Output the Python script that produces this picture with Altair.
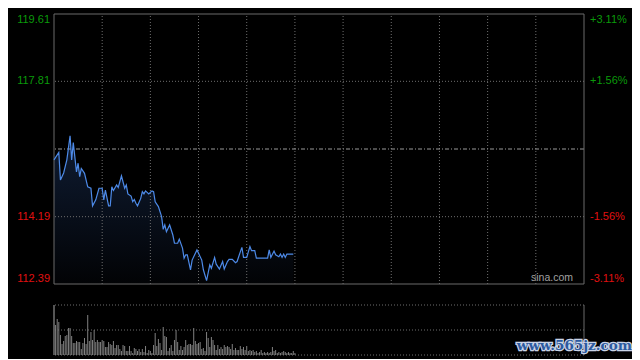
import altair as alt
import pandas as pd

# ---- data ----
minutes = [0, 3, 4, 6, 8, 10, 11, 12, 14, 15, 16, 17, 19, 21, 23, 24, 26, 28, 30, 31,
           32, 34, 35, 36, 37, 39, 40, 42, 44, 45, 46, 48, 49, 50, 51, 52, 54, 55, 56, 57,
           59, 61, 62, 63, 65, 67, 68, 69, 70, 72, 74, 75, 77, 78, 80, 81, 82, 83, 85, 86,
           89, 90, 92, 93, 95, 97, 98, 100, 101, 103, 105, 106, 108, 109, 111, 113, 114, 116, 117, 118,
           120, 121, 122, 123, 125, 126, 128, 133, 134, 135, 137, 138, 140, 141, 142, 143, 144, 145, 149]
prices = [115.71, 115.91, 115.17, 115.36, 115.71, 116.35, 115.71, 116.17, 115.39, 115.62,
          115.26, 115.48, 115.35, 114.99, 114.95, 114.48, 114.64, 114.95, 114.95, 114.64,
          114.90, 114.48, 114.48, 114.99, 114.89, 115.04, 114.97, 115.28, 114.95, 115.04,
          114.80, 114.74, 114.59, 114.65, 114.55, 114.48, 114.68, 114.86, 114.80, 114.88,
          114.80, 114.88, 114.86, 114.59, 114.46, 114.19, 113.85, 113.97, 113.79, 113.97,
          113.70, 113.48, 113.48, 113.59, 113.35, 113.08, 113.17, 113.17, 112.77, 113.03,
          113.30, 113.21, 113.03, 112.77, 112.48, 112.90, 112.81, 113.10, 112.92, 112.79,
          112.99, 112.79, 112.99, 113.05, 113.05, 112.96, 112.99, 113.25, 113.37, 113.10,
          113.10, 113.25, 113.39, 113.28, 113.28, 113.08, 113.08, 113.08, 113.30, 113.10,
          113.27, 113.17, 113.12, 113.19, 113.10, 113.19, 113.10, 113.19, 113.19]

volumes = [50, 30, 36, 33, 20, 11, 14, 19, 20, 27, 27, 19, 12, 12, 14, 13, 13, 6, 12, 17,
           11, 40, 14, 23, 15, 25, 13, 15, 13, 13, 15, 14, 8, 8, 13, 11, 10, 14, 7, 10,
           10, 6, 4, 10, 9, 4, 4, 9, 4, 2, 7,
           6, 4, 6, 3, 6, 3, 9, 2, 5, 4, 2, 10, 22, 9, 16, 12, 5, 28, 19,
           18, 4, 7, 10, 4, 15, 25, 13, 5, 9, 5, 8, 15, 10, 11, 11, 10, 27, 14, 11,
           12, 13, 6, 7, 4, 23, 17, 8, 18, 15, 10, 5,
           10, 6, 8, 6, 10, 8, 9, 8, 6, 11, 5, 7, 5, 5, 9, 6, 8, 5, 9, 4,
           5, 4, 5, 3, 4, 2, 3, 5, 2, 3, 2, 3, 2, 3, 8, 4, 5, 2, 3, 2,
           3, 4, 3, 2, 3, 2, 2, 4, 2]

prev_close = 116.00
price_min, price_max = 112.39, 119.61
price_ticks = [119.61, 117.81, 114.19, 112.39]
pct_labels = ["+3.11%", "+1.56%", "-1.56%", "-3.11%"]
inner_price_grid = [117.81, 114.19]
session_minutes = 330
grid_minutes = [30, 60, 90, 120, 150, 180, 210, 240, 270, 300]
vol_max = 50
vol_grid = [0, 25, 50]

# ---- tables ----
price_df = pd.DataFrame({"m": minutes, "p": prices})
vol_df = pd.DataFrame({"m": list(range(len(volumes))), "v": volumes})
label_df = pd.DataFrame({"p": price_ticks,
                         "left": [f"{v:.2f}" for v in price_ticks],
                         "right": pct_labels})

W, H = 530, 341
xs = alt.Scale(domain=[0, session_minutes], nice=False, zero=False)
ps = alt.Scale(domain=[price_min, price_max], range=[270, 0], nice=False, zero=False)
vs = alt.Scale(domain=[0, vol_max], range=[341, 291], nice=False, zero=False)

GRID = "#6f6f6f"
BORDER = "#6a6a6a"
GREEN = "#0a9a0a"
RED = "#e01010"
FONT = "Liberation Sans"

X = lambda f: alt.X(f, scale=xs, axis=None)
PY = lambda f: alt.Y(f, scale=ps, axis=None)
VY = lambda f: alt.Y(f, scale=vs, axis=None)

area = alt.Chart(price_df).mark_area(
    color=alt.Gradient(gradient="linear",
                       stops=[alt.GradientStop(color="#0f1c33", offset=0),
                              alt.GradientStop(color="#020305", offset=1)],
                       x1=1, x2=1, y1=0, y2=1)
).encode(x=X("m:Q"), y=PY("p:Q"), y2=alt.datum(price_min))

line = alt.Chart(price_df).mark_line(color="#4d8ae8", strokeWidth=1.2).encode(
    x=X("m:Q"), y=PY("p:Q"))

hgrid = alt.Chart(pd.DataFrame({"p": inner_price_grid})).mark_rule(
    color=GRID, strokeDash=[1, 2], strokeWidth=1).encode(y=PY("p:Q"))
hborder = alt.Chart(pd.DataFrame({"p": [price_min, price_max]})).mark_rule(
    color=BORDER, strokeWidth=1).encode(y=PY("p:Q"))
ref = alt.Chart(pd.DataFrame({"p": [prev_close]})).mark_rule(
    color="#9a9a9a", strokeDash=[4, 2, 1, 2], strokeWidth=1).encode(y=PY("p:Q"))
vgrid = alt.Chart(pd.DataFrame({"m": grid_minutes})).mark_rule(
    color=GRID, strokeDash=[1, 2], strokeWidth=1).encode(
    x=X("m:Q"), y=alt.Y("a:Q", scale=ps, axis=None), y2="b:Q"
).transform_calculate(a=str(price_min), b=str(price_max))
vborder = alt.Chart(pd.DataFrame({"m": [0, session_minutes]})).mark_rule(
    color=BORDER, strokeWidth=1).encode(
    x=X("m:Q"), y=alt.Y("a:Q", scale=ps, axis=None), y2="b:Q"
).transform_calculate(a=str(price_min), b=str(price_max))

color_cond = alt.condition(f"datum.p > {prev_close}", alt.value(GREEN), alt.value(RED))


def labels(field, align, dx, xval, flt, baseline):
    return alt.Chart(label_df).mark_text(
        align=align, baseline=baseline, dx=dx, fontSize=11, font=FONT
    ).encode(x=alt.X("xx:Q", scale=xs, axis=None), y=PY("p:Q"),
             text=f"{field}:N", color=color_cond
             ).transform_calculate(xx=str(xval)).transform_filter(flt)


lab_layers = []
for field, align, dx, xv in [("left", "right", -4, 0), ("right", "left", 6, session_minutes)]:
    lab_layers.append(labels(field, align, dx, xv, f"datum.p == {price_max}", "top"))
    lab_layers.append(labels(field, align, dx, xv,
                             f"datum.p < {price_max} && datum.p > {price_min}", "middle"))
    lab_layers.append(labels(field, align, dx, xv, f"datum.p == {price_min}", "bottom"))

sina = alt.Chart(pd.DataFrame({"t": ["sina.com"], "m": [session_minutes], "p": [price_min]})).mark_text(
    align="right", baseline="bottom", dx=-11, dy=-1, fontSize=10.5, font=FONT, color="#a0a0a0"
).encode(x=X("m:Q"), y=PY("p:Q"), text="t:N")

bars = alt.Chart(vol_df).mark_rule(color="#808080", strokeWidth=1).encode(
    x=X("m:Q"), y=VY("v:Q"), y2=alt.datum(0))
vol_hgrid = alt.Chart(pd.DataFrame({"v": vol_grid})).mark_rule(
    color=GRID, strokeDash=[1, 2], strokeWidth=1).encode(y=VY("v:Q"))
vol_vborder = alt.Chart(pd.DataFrame({"m": [0, session_minutes]})).mark_rule(
    color=BORDER, strokeWidth=1).encode(
    x=X("m:Q"), y=alt.Y("a:Q", scale=vs, axis=None), y2="b:Q"
).transform_calculate(a="0", b=str(vol_max))

wm_df = pd.DataFrame({"t": ["www.565jz.com"], "m": [session_minutes], "v": [0]})
wm_back = alt.Chart(wm_df).mark_text(
    align="right", baseline="middle", dx=48, dy=-9, fontSize=13.5, font="DejaVu Serif",
    fontWeight="bold", color="#2c5aa0", stroke="#c9d3e6", strokeWidth=2.5
).encode(x=X("m:Q"), y=VY("v:Q"), text="t:N")
wm_front = alt.Chart(wm_df).mark_text(
    align="right", baseline="middle", dx=48, dy=-9, fontSize=13.5, font="DejaVu Serif",
    fontWeight="bold", color="#2c5aa0"
).encode(x=X("m:Q"), y=VY("v:Q"), text="t:N")

chart = alt.layer(
    area, hgrid, vgrid, ref, hborder, vborder, line, sina,
    vol_hgrid, bars, vol_vborder, *lab_layers, wm_back, wm_front
).resolve_scale(y="independent").properties(
    width=W, height=H,
    autosize=alt.AutoSizeParams(type="none"),
    padding={"left": 46, "top": 6, "right": 48, "bottom": 4},
    background="#000000",
).configure_view(stroke=None)

chart.save("out.html", embed_options={"renderer": "svg", "actions": False})
